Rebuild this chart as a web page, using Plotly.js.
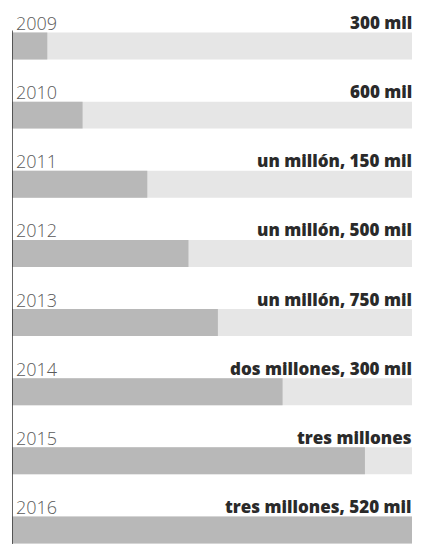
<!DOCTYPE html>
<html>
<head>
<meta charset="utf-8">
<script src="https://cdn.plot.ly/plotly-3.0.1.min.js"></script>
<style>
html,body{margin:0;padding:0;background:#fff;}
#chart{width:424px;height:544px;}
</style>
</head>
<body>
<div id="chart"></div>
<script>
// Data
const years = ["2009","2010","2011","2012","2013","2014","2015","2016"];
const values = [300000, 600000, 1150000, 1500000, 1750000, 2300000, 3000000, 3520000];
const valueLabels = ["300 mil","600 mil","un millón, 150 mil","un millón, 500 mil","un millón, 750 mil","dos millones, 300 mil","tres millones","tres millones, 520 mil"];
const trackMax = years.map(() => 3520000);

const BW = 0.39;

const track = {
  type: 'bar', orientation: 'h',
  x: trackMax, y: years,
  marker: {color: '#e6e6e6'},
  width: BW, hoverinfo: 'skip', showlegend: false
};
const bars = {
  type: 'bar', orientation: 'h',
  x: values, y: years,
  marker: {color: '#b8b8b8'},
  width: BW, hoverinfo: 'skip', showlegend: false
};

const annotations = [];
years.forEach((yr, i) => {
  annotations.push({
    x: 0, xref: 'paper', y: i, yref: 'y',
    text: yr, showarrow: false, xanchor: 'left', yanchor: 'bottom',
    xshift: 2, yshift: 9,
    font: {family: 'Open Sans', size: 18, color: '#5a5a5a', weight: 300}
  });
  annotations.push({
    x: 1, xref: 'paper', y: i, yref: 'y',
    text: valueLabels[i], showarrow: false, xanchor: 'right', yanchor: 'bottom',
    xshift: 2, yshift: 10,
    font: {family: 'Open Sans', size: 17, color: '#2a2a2a', weight: 800}
  });
});

const layout = {
  width: 424, height: 544,
  margin: {l: 12, r: 12, t: 0, b: 0},
  paper_bgcolor: '#fff', plot_bgcolor: '#fff',
  barmode: 'overlay',
  xaxis: {range: [0, 3400000], showgrid: false, zeroline: false, showticklabels: false, showline: false, ticks: '', fixedrange: true},
  yaxis: {type: 'category', range: [7.203, -0.665], showgrid: false, zeroline: false, showticklabels: false, showline: false, ticks: '', fixedrange: true},
  shapes: [{
    type: 'line', xref: 'x', yref: 'y',
    x0: 0, x1: 0, y0: -BW/2 - 0.03, y1: 7.203,
    line: {color: '#333', width: 1.5}
  }],
  annotations: annotations,
  showlegend: false
};

Plotly.newPlot('chart', [track, bars], layout, {displayModeBar: false, staticPlot: true});
</script>
</body>
</html>
